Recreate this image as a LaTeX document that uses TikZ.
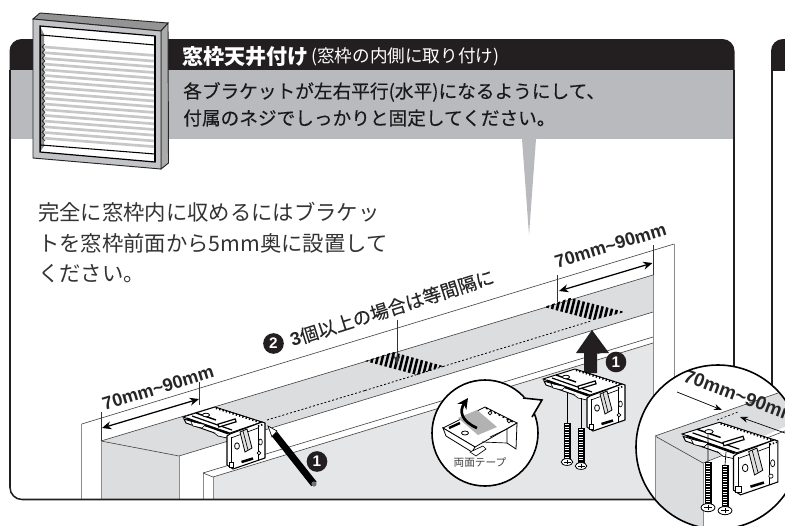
\documentclass[tikz,border=0pt]{standalone}
\usepackage{fontspec}
\setmainfont{Noto Sans CJK JP}
\newfontfamily\jpmed[FakeBold=0.25]{Noto Sans CJK JP}
\newfontfamily\lat{Liberation Sans}
\usetikzlibrary{arrows.meta}
\definecolor{bandgray}{HTML}{B8BABD}
\definecolor{soffit}{HTML}{DCDDDF}
\definecolor{lowgray}{HTML}{E5E6E8}
\definecolor{inkk}{HTML}{231F20}
\definecolor{bodyink}{HTML}{333333}
\tikzset{
  panelline/.style={draw=inkk,line width=1.15pt},
  thinline/.style={draw=black!75,line width=0.45pt},
  edgegray/.style={draw=black!45,line width=0.75pt},
  dimarrow/.style={draw=black,line width=0.95pt,{Stealth[length=7pt,width=6pt]}-{Stealth[length=7pt,width=6pt]}},
  dimtxt/.style={font=\lat\bfseries\fontsize{13.6}{13.6}\selectfont,inner sep=0pt,text=black!85},
  numdot/.style={circle,fill=inkk,text=white,inner sep=0pt,minimum size=15.5pt,font=\lat\bfseries\fontsize{11.5}{11.5}\selectfont},
  dotline/.style={draw=black,line width=0.6pt,dash pattern=on 1.5pt off 1.5pt},
  plainnode/.style={inner sep=0pt,anchor=west},
  shafted/.pic={
    \draw[fill=black,line width=0.3pt] (-2.7,0) -- (-2.7,#1) -- (2.7,#1) -- (2.7,0) -- cycle;
    \draw[white,line width=2.8pt,dash pattern=on 0.6pt off 1.3pt] (0,1) -- (0,#1-1);
    \draw[fill=white,line width=0.6pt] (0,#1+4) ellipse (5.8 and 3.4);
    \draw[line width=0.5pt] (-3.5,#1+4) -- (3.5,#1+4) (0,#1+2) -- (0,#1+6);
  },
  clipplate/.pic={
    \draw[fill=white,line width=0.7pt] (0,0) -- (32,-10) -- (79,5) -- (47,16) -- cycle;
    \draw[fill=white,line width=0.7pt] (1,2) -- (3,6) -- (46,21) -- (48,17) -- cycle;
    \draw[line width=1.5pt] (4,1.5) -- (45,16.5);
    \draw[line width=0.9pt] (9,-1) -- (49,13);
    \draw[line width=1.1pt] (13,-4) -- (33,3);
    \draw[fill=white,line width=0.5pt] (8,5) -- (10,9) -- (19,11) -- (22,8);
    \draw[fill=white,line width=0.5pt] (30,15) -- (35,19) -- (44,21) -- (47,20);
    \draw[dash pattern=on 1pt off 1.6pt,line width=1.7pt] (33,-9) -- (78,5.5);
    \draw[line width=0.6pt,fill=white] (23,-2) ellipse (3.6 and 1.8);
    \draw[line width=0.9pt,fill=white,rotate around={17:(44,6)}] (35,4.5) rectangle (53,7.5);
    \draw[fill=white,line width=0.8pt] (44,19) -- (44,48) -- (50,52) -- (82,41) -- (82,6) -- (79,5) -- (47,17) -- cycle;
    \draw[line width=0.5pt] (48,20) -- (48,50) (75,8) -- (75,44);
    \draw[line width=0.5pt] (48,21) -- (75,11);
    \draw[fill=black!12,line width=0.6pt] (57,15) -- (64,12) -- (69,31) -- (62,35) -- cycle;
    \draw[line width=0.5pt] (60,14) -- (65,33);
    \draw[line width=0.6pt,fill=white] (54,29) ellipse (2.4 and 3.2);
    \draw[line width=1.9pt] (58.5,45) -- (70,41.5);
    \draw[line width=0.5pt,fill=white] (46,45) rectangle (50.5,50);
    \draw[line width=0.5pt,fill=white] (77.5,25) ellipse (1.8 and 3);
    \draw[line width=1.3pt,dash pattern=on 1pt off 1.4pt] (75,9) -- (81,7);
    \draw[line width=0.5pt,fill=white] (76,36) circle (1.8);
  }
}
\begin{document}
\begin{tikzpicture}[x=0.75pt,y=-0.75pt]
\useasboundingbox (0,0) rectangle (785,525);
\fill[white] (0,0) rectangle (785,525);
% --- right panel
\begin{scope}
\clip (771,39) rectangle (785,70);
\fill[inkk,rounded corners=9pt] (771,39) rectangle (800,90);
\end{scope}
\draw[panelline] (772,68) -- (772,400);
% --- main panel
\begin{scope}
\clip[rounded corners=9pt] (9.5,39) rectangle (734.5,499.5);
\fill[inkk] (0,30) rectangle (740,70);
\fill[bandgray] (0,70) rectangle (740,139);
% ceiling and wall
\fill[soffit] (101,441) -- (653,275) -- (653,312) -- (179,456) -- cycle;
\fill[soffit] (101,441) -- (179,456) -- (179,505) -- (101,505) -- cycle;
\fill[lowgray] (213,477) -- (653,343) -- (653,505) -- (213,505) -- cycle;
\draw[edgegray] (81.7,424) -- (81.7,505);
\draw[thinline] (81.7,424) -- (674,244);
\draw[edgegray] (674,244) -- (674,505);
\draw[thinline] (101,441) -- (653,275);
\draw[thinline] (101,441) -- (179,456) -- (653,312);
\draw[edgegray] (179,456) -- (179,505);
\draw[edgegray] (101,441) -- (101,505);
\draw[edgegray] (653,275) -- (653,505);
\draw[edgegray] (203,505) -- (203,473);
\draw[edgegray] (213,505) -- (213,477);
\draw[thinline] (203,473) -- (653,337);
\draw[thinline] (203,473) -- (213,477) -- (653,343);
\end{scope}
\fill[bandgray] (522,139) -- (536,139) -- (529,235) -- cycle;
% stripes
\begin{scope}
\clip (365,361) -- (393,352) -- (443,366) -- (417,375) -- cycle;
\foreach \i in {0,...,22} {\draw[black,line width=1.9pt] (352+\i*5,380) -- (360+\i*5,348);}
\end{scope}
\begin{scope}
\clip (544,307) -- (570,298) -- (625,312) -- (593,320) -- cycle;
\foreach \i in {0,...,22} {\draw[black,line width=1.9pt] (533+\i*5,325) -- (541+\i*5,293);}
\end{scope}
\draw[dotline] (267,420) -- (365,390.5) (365,390.5) -- (443,366.5);
\draw[dotline] (443,366.5) -- (591,321);
% dims
\coordinate (d1a) at (101,412); \coordinate (d1b) at (101,441);
\coordinate (d2a) at (199.5,382); \coordinate (d2b) at (199.5,405);
\coordinate (d3a) at (557.7,275); \coordinate (d3b) at (557.7,302);
\coordinate (d4a) at (653,245); \coordinate (d4b) at (653,275);
\draw[line width=0.5pt,black!80] (d1a) -- (d1b) (d2a) -- (d2b) (d3a) -- (d3b) (d4a) -- (d4b);
\coordinate (a1) at (102,428); \coordinate (a2) at (199,399);
\coordinate (a3) at (559,291); \coordinate (a4) at (652.5,263);
\draw[dimarrow] (a1) -- (a2);
\draw[dimarrow] (a3) -- (a4);
\coordinate (m1) at (397,320); \coordinate (m2) at (397,365);
\draw[line width=0.5pt,black!80,-{Stealth[length=7pt,width=5pt]}] (m1) -- (m2);
\node[dimtxt,rotate=17] (t70a) at (158,388) {70mm\char`\~90mm};
\node[dimtxt,rotate=17] (t70b) at (610.5,245.5) {70mm\char`\~90mm};
\node[numdot] (n2) at (273.5,343.5) {2};
\node[inner sep=0pt,rotate=17.5,font=\fontsize{13.8}{13.8}\selectfont\jpmed,text=black!85] (t3) at (392,308) {{\lat\bfseries 3}個以上の場合は等間隔に};
% window
\draw[fill=black!42,draw=black!85,line width=0.7pt] (33,19) -- (40,13) -- (168,23) -- (161,31) -- cycle;
\draw[fill=black!33,draw=black!85,line width=0.7pt] (161,31) -- (168,23) -- (168.5,163) -- (161,169) -- cycle;
\draw[fill=bandgray!85,draw=black!85,line width=0.7pt] (33,19) -- (161,31) -- (161,169) -- (33,158) -- cycle;
\draw[fill=white,draw=black,line width=0.9pt] (40,26) -- (155,36) -- (155,162) -- (40,152) -- cycle;
\fill[black!45] (40,26) -- (44,34) -- (44,146) -- (40,152) -- cycle;
\draw[black,line width=0.8pt] (41,35) -- (155,45);
\draw[black,line width=0.8pt] (41,145) -- (155,154);
\foreach \i in {0,...,16} {
  \draw[black!22,line width=2pt] (44.5,47+\i*5.7) -- (155,55.5+\i*5.7);
  \draw[black!85,line width=0.5pt] (45,44+\i*5.7) -- (42,46.8+\i*5.7) -- (45,49.7+\i*5.7);
}
\draw[black,line width=0.8pt] (155,36) -- (155,162);
\draw[black,line width=0.5pt] (40,26) -- (40,152);
% bracket 1
\pic at (183,417) {clipplate};
\draw[black,line width=0.5pt,fill=white] (268,426) -- (272,437) -- (277,431) -- cycle;
\coordinate (pen1) at (274.5,434); \coordinate (pen2) at (314,484);
\draw[black,line width=5.2pt] (pen1) -- (pen2);
\fill[black!55] (314,484) circle (2.6);
\node[numdot] (n1a) at (317,461.5) {1};
% tape callout
\draw[fill=white,draw=black,line width=1.2pt] (485,433) circle (53);
\fill[white] (521,397) -- (542,400) -- (532,418) -- (515,410) -- cycle;
\draw[black,line width=1.2pt,line join=miter] (523,398) -- (542,400) -- (532,417);
\draw[fill=white,line width=0.6pt] (443,428) -- (485,407) -- (517,423) -- (475,447) -- cycle;
\draw[fill=white,line width=0.6pt] (443,428) -- (446,436) -- (472,452) -- (475,447) -- cycle;
\draw[fill=white,line width=0.6pt] (517,423) -- (516,449) -- (507,443) -- (507,429) -- cycle;
\draw[line width=0.5pt] (482,442) -- (507,443) (490,437) -- (507,429);
\draw[fill=white,line width=0.5pt] (470,452) -- (476,456) -- (486,449) -- (483,446) -- cycle;
\draw[line width=1.8pt] (449,428) -- (460,423);
\draw[line width=0.6pt,fill=white] (465,433) ellipse (3.5 and 2);
\draw[line width=1.2pt,dash pattern=on 1.5pt off 2pt] (486,408) -- (515,423);
\draw[fill=white,line width=0.5pt] (490,413) circle (1.8) (509,421) circle (1.8);
\fill[black!30] (458,418) -- (477,410) -- (497,427) -- (478,435) -- cycle;
\draw[-{Stealth[length=8pt,width=8pt]},line width=2pt] (477,428) .. controls (461,421) and (459,411) .. (468,398);
\node[inner sep=0pt,font=\fontsize{8}{8}\selectfont,text=black!75] (tape) at (480,462) {両面テープ};
% bracket 2
\fill[inkk] (584,373) -- (584,353) -- (576,353) -- (592,330) -- (609,353) -- (597,353) -- (597,373) -- cycle;
\pic at (543,379) {clipplate};
\draw[line width=0.5pt] (567,393) -- (567,423) (581,398) -- (581,428);
\pic at (567,423) {shafted=35};
\pic at (581,428) {shafted=34};
\node[numdot] (n1b) at (616,362) {1};
% text
\node[plainnode,font=\bfseries\fontsize{15.8}{15.8}\selectfont,text=white] (title) at (182,57) {窓枠天井付け};
\node[plainnode,font=\fontsize{13.2}{13.2}\selectfont,text=white] (sub) at (311,57) {(窓枠の内側に取り付け)};
\node[plainnode,font=\fontsize{14}{14}\selectfont\jpmed,text=black!90] (g1) at (183,92) {各ブラケットが左右平行(水平)になるようにして、};
\node[plainnode,font=\fontsize{14}{14}\selectfont\jpmed,text=black!90] (g2) at (183,118) {付属のネジでしっかりと固定してください。};
\node[plainnode,font=\fontsize{16}{16}\selectfont,text=bodyink] (b1) at (38,212) {完全に窓枠内に収めるにはブラケッ};
\node[plainnode,font=\fontsize{16}{16}\selectfont,text=bodyink] (b2) at (38,243) {トを窓枠前面から5mm奥に設置して};
\node[plainnode,font=\fontsize{16}{16}\selectfont,text=bodyink] (b3) at (38,274) {ください。};
% panel outline
\draw[panelline,rounded corners=9pt] (10,70) -- (10,499.5) -- (734,499.5) -- (734,70);
% detail circle
\draw[fill=white,draw=none] (718,447) circle (82);
\begin{scope}
\clip (718,447) circle (82);
\fill[soffit] (655,436) -- (778,393) -- (800,393) -- (800,420) -- (703,463) -- cycle;
\fill[soffit] (655,436) -- (703,463) -- (703,540) -- (655,540) -- cycle;
\draw[thinline] (655,436) -- (778,393) (655,436) -- (703,463) -- (800,425);
\draw[edgegray] (655,436) -- (655,540) (703.5,463) -- (703.5,540);
\coordinate (c1) at (677,392); \coordinate (c2) at (722,410); \coordinate (c3) at (785,433); \coordinate (c4) at (740,417);
\draw[line width=0.5pt,black,-{Stealth[length=6pt,width=4.5pt]}] (c1) -- (c2);
\draw[line width=0.5pt,black,-{Stealth[length=6pt,width=4.5pt]}] (c3) -- (c4);
\draw[dotline,line width=0.5pt] (717,420) -- (738,412);
\node[dimtxt,rotate=-20.5,font=\lat\bfseries\fontsize{14.2}{14.2}\selectfont] (t70c) at (741,396) {70mm\char`\~90mm};
\pic[scale=1.17] at (682,434) {clipplate};
\draw[line width=0.5pt] (708,433) -- (708,462) (726,452) -- (725,465);
\pic[scale=1.2] at (708,462) {shafted=34};
\pic[scale=1.2] at (725,465) {shafted=34};
\end{scope}
\draw[line width=1.2pt,black] (718,447) circle (82);
\end{tikzpicture}
\end{document}
